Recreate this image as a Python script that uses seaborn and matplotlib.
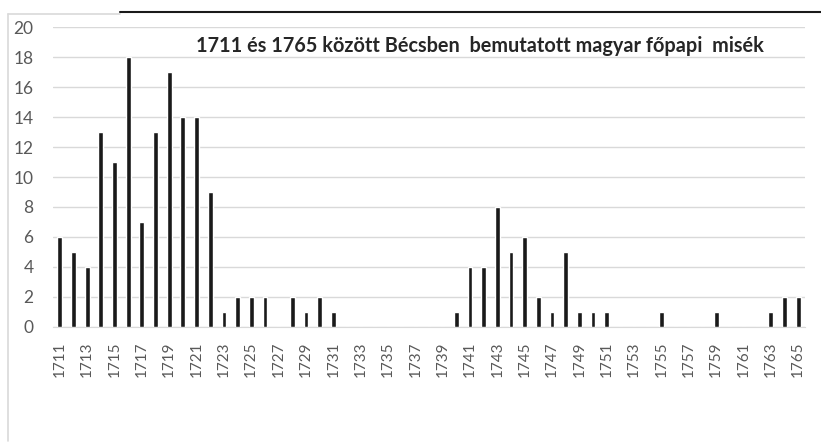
import matplotlib
matplotlib.use("Agg")
import matplotlib.pyplot as plt
import matplotlib.transforms as mtransforms
from matplotlib.lines import Line2D
import seaborn as sns
import pandas as pd

# --- DATA ---
years = [str(y) for y in range(1711, 1766)]
masses = [6, 5, 4, 13, 11, 18, 7, 13, 17, 14, 14, 9, 1, 2, 2, 2, 0, 2, 1, 2,
          1, 0, 0, 0, 0, 0, 0, 0, 0, 1, 4, 4, 8, 5, 6, 2, 1, 5, 1, 1,
          1, 0, 0, 0, 1, 0, 0, 0, 1, 0, 0, 0, 1, 2, 2]
title = "1711 és 1765 között Bécsben  bemutatott magyar főpapi  misék"

df = pd.DataFrame({"year": years, "count": masses})

sns.set_style("white")
plt.rcParams['font.family'] = ['Lato', 'DejaVu Sans']

fig = plt.figure(figsize=(8.21, 4.43), dpi=100)
ax = fig.add_axes([53 / 821, 1 - 326.7 / 443, 752 / 821, 299.4 / 443])

sns.barplot(data=df, x="year", y="count", color="#1a1a1a", width=0.35,
            saturation=1, ax=ax, zorder=3)

ax.set_xlim(-0.5, 54.5)
ax.set_ylim(0, 20)
ax.set_yticks(range(0, 21, 2))
ax.yaxis.grid(True, color="#d9d9d9", linewidth=1, zorder=0)
ax.set_xticks(range(0, 55, 2))
ax.set_xticklabels(years[::2], rotation=90, fontsize=11, color="#595959")
ax.tick_params(axis="y", labelsize=12.5, labelcolor="#595959", length=0, pad=14)
ax.tick_params(axis="x", length=0, pad=11)
ax.set_xlabel("")
ax.set_ylabel("")
for s in ["top", "right", "left"]:
    ax.spines[s].set_visible(False)
ax.spines["bottom"].set_color("#d9d9d9")
ax.spines["bottom"].set_zorder(1)

trans = mtransforms.blended_transform_factory(ax.transAxes, ax.transData)
ax.text((480 - 53) / 752, 18.75, title, transform=trans,
        fontsize=14.3, fontweight="bold", color="#262626", ha="center", va="center")

# chart frame lines
fig.add_artist(Line2D([8 / 821, 8 / 821], [1 - 14 / 443, 1 - 441 / 443], color="#d9d9d9", lw=1.2,
                      transform=fig.transFigure))
fig.add_artist(Line2D([8 / 821, 120 / 821], [1 - 14 / 443, 1 - 14 / 443], color="#d9d9d9", lw=1.2,
                      transform=fig.transFigure))
fig.add_artist(Line2D([120 / 821, 1.0], [1 - 12 / 443, 1 - 12 / 443], color="#1a1a1a", lw=1.5,
                      transform=fig.transFigure))

fig.savefig("out.png", dpi=100)
